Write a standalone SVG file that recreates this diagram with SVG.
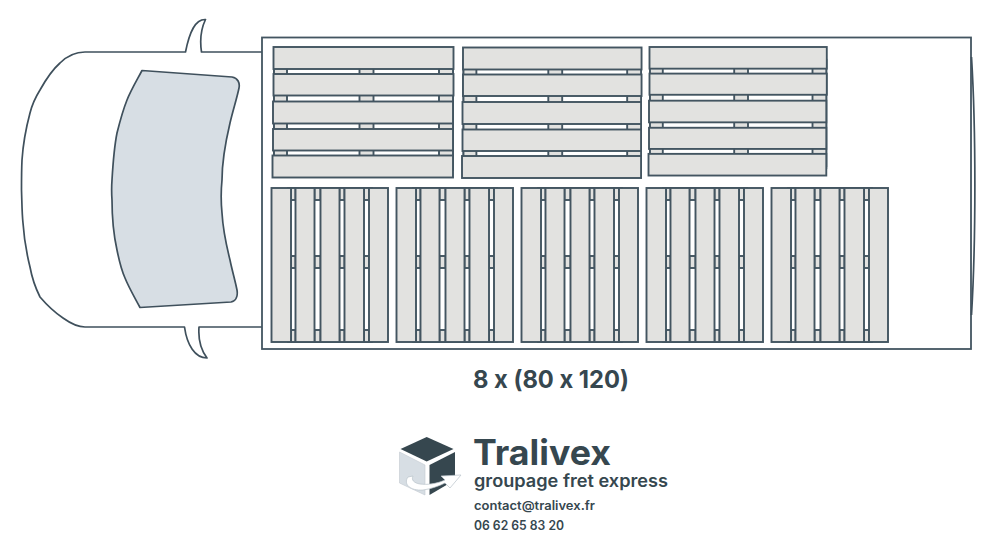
<svg xmlns="http://www.w3.org/2000/svg" width="1000" height="555" viewBox="0 0 1000 555">
<style>
.l{fill:none;stroke:#3f505c;stroke-width:1.700;stroke-linejoin:round}
.w{fill:#fff;stroke:#435561;stroke-width:1.900}
.b{fill:#e2e2e0;stroke:#435561;stroke-width:1.900}
text{font-family:"Inter","Liberation Sans",sans-serif;font-weight:600;fill:#36474f;font-feature-settings:"calt" 0}
.h{font-weight:700}
</style>
<defs>
<g id="hp">
<rect class="w" x="274" y="60" width="179" height="110"/>
<rect class="b" x="274" y="60" width="13" height="108"/><rect class="b" x="359.500" y="60" width="14" height="108"/><rect class="b" x="439" y="60" width="14" height="108"/>
<rect class="b" x="273.500" y="47" width="180" height="22"/>
<rect class="b" x="273.500" y="74" width="180" height="21.500"/>
<rect class="b" x="273" y="101.500" width="180" height="22"/>
<rect class="b" x="273" y="129" width="180" height="21.500"/>
<rect class="b" x="272.500" y="155.500" width="180.500" height="22"/>
</g>
<g id="vp">
<rect class="w" x="288" y="188" width="84" height="154"/>
<rect class="b" x="291" y="188" width="4.500" height="12"/><rect class="b" x="291" y="256" width="4.500" height="12"/><rect class="b" x="291" y="330" width="4.500" height="12"/>
<rect class="b" x="314.500" y="188" width="6" height="12"/><rect class="b" x="314.500" y="256" width="6" height="12"/><rect class="b" x="314.500" y="330" width="6" height="12"/>
<rect class="b" x="339.500" y="188" width="5" height="12"/><rect class="b" x="339.500" y="256" width="5" height="12"/><rect class="b" x="339.500" y="330" width="5" height="12"/>
<rect class="b" x="364" y="188" width="5" height="12"/><rect class="b" x="364" y="256" width="5" height="12"/><rect class="b" x="364" y="330" width="5" height="12"/>
<rect class="b" x="271.500" y="188" width="19.500" height="154"/>
<rect class="b" x="295.500" y="188" width="19" height="154"/>
<rect class="b" x="320.500" y="188" width="19" height="154"/>
<rect class="b" x="344.500" y="188" width="19.500" height="154"/>
<rect class="b" x="369" y="188" width="19" height="154"/>
</g>
</defs>
<rect width="1000" height="555" fill="#fff"/>
<g id="van-cab">
<path class="l" d="M262 52H201.500C200 42 200.500 30 205.500 19.500C195 19 189.500 32 185.500 52H85C74 52 66 57 60 63C51 71 45 81 40 90C35 98 32 105 30 113C26 128 23 145 22 160C21.500 170 21.500 180 21.500 190C22 205 22 214 23 223C24 238 27 255 30 267C32 278 36 289 40 297C46 304 54 312 63 318C70 323 78 327 85 327H184.500C187 345 195 358 207 358C201 350 198 340 199 327H262"/>
<path id="windscreen" d="M142 70.500L232 77C238 78 240 83 239 88C237 98 233 110 230 123C226 140 222 160 222 180C221 190 221 203 222 213C223 230 227 248 230 260C232 270 235 280 237 290C238 296 236 301 231 302L140 307.500C135 298 129 288 125 278C121 269 119 260 117 250C113 232 112 215 112 200C111.500 193 111.500 187 112 180C113 163 114 148 117 133C120 121 123 110 127 100C131 90 137 80 142 70.500Z" fill="#d7dee4" stroke="#3f505c" stroke-width="1.700" stroke-linejoin="round"/>
</g>
<g id="van-box">
<rect x="262" y="37.500" width="709" height="311.500" fill="none" stroke="#435561" stroke-width="1.800"/>
<path class="l" d="M971.500 57C976 130 976 240 971.500 315"/>
</g>
<g id="pallets">
<use id="h1" href="#hp"/>
<use id="h2" href="#hp" transform="translate(462.500 0.500) scale(.992 1) translate(-273 0)"/>
<use id="h3" href="#hp" transform="translate(649 0.700) scale(.985 .985) translate(-273 0)"/>
<use id="v1" href="#vp"/>
<use id="v2" href="#vp" x="125"/>
<use id="v3" href="#vp" x="250"/>
<use id="v4" href="#vp" x="375"/>
<use id="v5" href="#vp" x="500"/>
</g>
<text class="h" x="551" y="388" font-size="24.500" text-anchor="middle" textLength="156" lengthAdjust="spacingAndGlyphs">8 x (80 x 120)</text>
<g id="logo">
<path d="M426.700 437L453.500 449L426.700 461.500L400.500 449Z" fill="#36474f"/>
<path d="M399.500 452L425 465V495L399.500 483Z" fill="#d7dee4" stroke="#c2cad0" stroke-width=".6"/>
<path d="M429.500 465L455 452V480L429.500 495Z" fill="#36474f"/>
<path d="M408 477C403 484 410 491 423 490C431 489 439 486 445 483L450 488L461 475L441 476L445 480C436 484 427 485 420 484C414 483 411 480 413 476Z" fill="#fff" stroke="#b9c3ca" stroke-width=".7"/>
</g>
<text class="h" x="473" y="465" font-size="35" textLength="138" lengthAdjust="spacingAndGlyphs">Tralivex</text>
<text x="474" y="487" font-size="17" textLength="194" lengthAdjust="spacingAndGlyphs">groupage fret express</text>
<text x="474" y="510" font-size="12.500" textLength="121" lengthAdjust="spacingAndGlyphs">contact@tralivex.fr</text>
<text x="474" y="530" font-size="12.500" textLength="90" lengthAdjust="spacingAndGlyphs">06 62 65 83 20</text>
</svg>
